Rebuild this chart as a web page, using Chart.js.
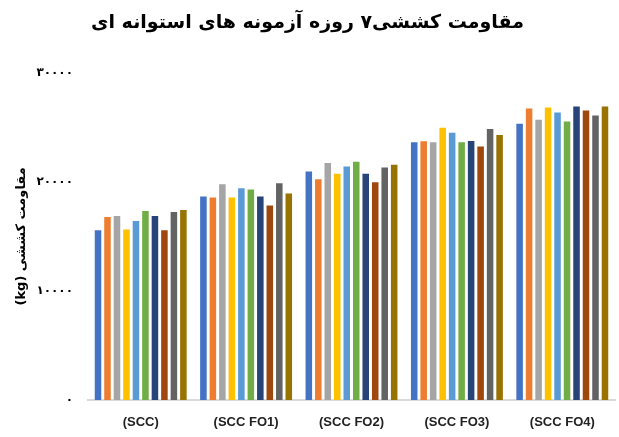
<!DOCTYPE html>
<html>
<head>
<meta charset="utf-8">
<script src="https://cdn.jsdelivr.net/npm/chart.js@4.4.1/dist/chart.umd.min.js"></script>
<style>
  html, body { margin: 0; padding: 0; background: #fff; }
  #wrap { width: 619px; height: 437px; }
</style>
</head>
<body>
<div id="wrap"><canvas id="chart" dir="rtl" width="619" height="437"></canvas></div>
<script>
// ── Data ─────────────────────────────────────────────────────────────────────
const categories = ['(SCC)', '(SCC FO1)', '(SCC FO2)', '(SCC FO3)', '(SCC FO4)'];
const seriesNames = ['1', '2', '3', '4', '5', '6', '7', '8', '9', '10'];
const seriesColors = ['#4472C4', '#ED7D31', '#A5A5A5', '#FFC000', '#5B9BD5',
                      '#70AD47', '#264478', '#9E480E', '#636363', '#997300'];

// one array per category: the 10 specimens (kg)
const sccValues = [15660, 16880, 16970, 15720, 16510, 17430, 16970, 15660, 17340, 17520];
const fo1Values = [18740, 18650, 19880, 18650, 19510, 19390, 18740, 17920, 19970, 19020];
const fo2Values = [21040, 20340, 21830, 20830, 21500, 21930, 20830, 20060, 21400, 21650];
const fo3Values = [23730, 23820, 23730, 25050, 24590, 23730, 23850, 23330, 24950, 24400];
const fo4Values = [25410, 26820, 25780, 26910, 26450, 25620, 27000, 26630, 26170, 27000];

const yTicks = [0, 10000, 20000, 30000];

const titleText = 'مقاومت کششی۷ روزه آزمونه های استوانه ای';
const yTitleText = 'مقاومت کششی (kg)';

// ── Helpers ──────────────────────────────────────────────────────────────────
const faDigits = '۰۱۲۳۴۵۶۷۸۹';
function toFa(n) {
  return String(n).replace(/[0-9]/g, d => faDigits[+d]);
}

const byCategory = [sccValues, fo1Values, fo2Values, fo3Values, fo4Values];
const datasets = seriesNames.map((name, i) => ({
  label: name,
  data: byCategory.map(arr => arr[i]),
  backgroundColor: seriesColors[i],
  borderColor: 'rgba(255,255,255,0.3)',
  borderWidth: 1,
  barPercentage: 0.9,
  categoryPercentage: 0.9,
}));

// ── Chart ────────────────────────────────────────────────────────────────────
new Chart(document.getElementById('chart'), {
  type: 'bar',
  data: { labels: categories, datasets },
  options: {
    responsive: false,
    animation: false,
    events: [],
    layout: { padding: { left: 0, right: 4, top: 0, bottom: 0 } },
    plugins: {
      legend: { display: false },
      tooltip: { enabled: false },
      title: {
        display: true,
        text: titleText,
        color: '#000',
        font: { family: 'DejaVu Sans', size: 19, weight: 'bold' },
        padding: { top: 12, bottom: 38 },
      },
    },
    scales: {
      x: {
        afterFit: (scale) => { scale.height = 37; },
        grid: { display: false, drawTicks: false },
        border: { display: true, color: '#d9d9d9', width: 2 },
        ticks: {
          color: '#222',
          font: { family: 'Liberation Sans', size: 13, weight: 'bold' },
          padding: 15,
        },
      },
      y: {
        min: 0,
        max: 30000,
        afterBuildTicks: (scale) => { scale.ticks = yTicks.map(v => ({ value: v })); },
        afterFit: (scale) => { scale.width = 88; },
        grid: { display: false, drawTicks: false },
        border: { display: false },
        ticks: {
          color: '#000',
          font: { family: 'DejaVu Sans', size: 12, weight: 'bold' },
          padding: 15,
          callback: (v) => toFa(v),
        },
        title: {
          display: true,
          text: yTitleText,
          color: '#000',
          font: { family: 'DejaVu Sans', size: 13, weight: 'bold' },
          padding: { top: 14, bottom: 0 },
        },
      },
    },
  },
});
</script>
</body>
</html>
